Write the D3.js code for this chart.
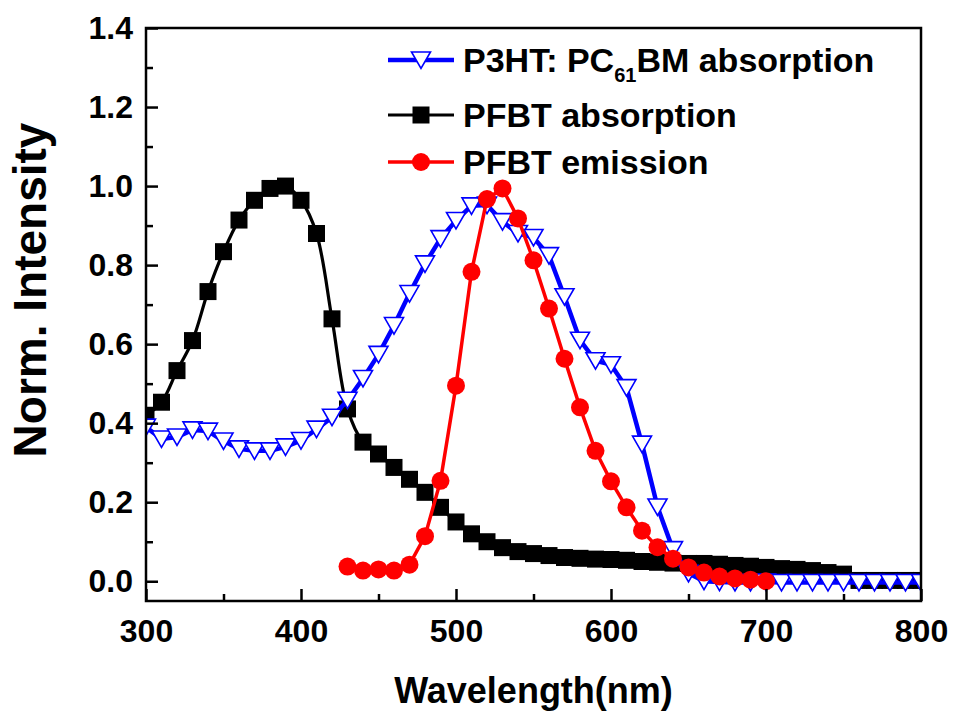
<!DOCTYPE html>
<html>
<head>
<meta charset="utf-8">
<script src="https://cdn.jsdelivr.net/npm/d3@7"></script>
<style>
  body { margin: 0; background: #fff; }
  text { font-family: "Liberation Sans", Arial, sans-serif; font-weight: bold; fill: #000; }
</style>
</head>
<body>
<svg></svg>
<script>
//data
var p3htNm = [300,310,320,330,340,350,360,370,380,390,400,410,420,430,440,450,460,470,480,490,
  500,510,520,530,540,550,560,570,580,590,600,610,620,630,640,650,660,670,680,690,
  700,710,720,730,740,750,760,770,780,790,800];
var p3htAbs = [0.39,0.36,0.365,0.383,0.38,0.355,0.335,0.33,0.33,0.34,0.356,0.385,0.415,0.458,0.513,0.574,0.647,0.728,0.803,0.867,
  0.913,0.95,0.952,0.91,0.88,0.87,0.824,0.72,0.61,0.558,0.548,0.49,0.347,0.188,0.08,0.02,0.0,-0.002,-0.003,-0.003,
  -0.002,-0.003,-0.003,-0.003,-0.003,-0.003,-0.003,-0.003,-0.003,-0.003,-0.003];

var pfbtNm = [300,310,320,330,340,350,360,370,380,390,400,410,420,430,440,450,460,470,480,490,
  500,510,520,530,540,550,560,570,580,590,600,610,620,630,640,650,660,670,680,690,
  700,710,720,730,740,750,760,770,780,790,800];
var pfbtAbs = [0.42,0.453,0.533,0.609,0.733,0.834,0.914,0.964,0.994,1.0,0.964,0.88,0.664,0.436,0.352,0.322,0.288,0.258,0.225,0.187,
  0.15,0.12,0.1,0.085,0.075,0.07,0.065,0.06,0.058,0.056,0.055,0.053,0.05,0.048,0.046,0.045,0.045,0.043,0.04,0.038,
  0.035,0.032,0.03,0.027,0.022,0.018,0.002,0.002,0.002,0.002,0.002];

var emNm = [430,440,450,460,470,480,490,500,510,520,530,540,550,560,570,580,590,600,610,620,
  630,640,650,660,670,680,690,700];
var pfbtEm = [0.037,0.027,0.03,0.027,0.042,0.114,0.254,0.495,0.783,0.967,0.994,0.918,0.812,0.69,0.563,0.44,0.33,0.253,0.187,0.128,
  0.086,0.057,0.035,0.022,0.012,0.007,0.004,0.0];

var xTicks = [300,400,500,600,700,800];
var yTicks = [0.0,0.2,0.4,0.6,0.8,1.0,1.2,1.4];

//layout conf.
var svgWidth = 953, svgHeight = 715,
    plot = {left: 146, right: 921, top: 28, bottom: 601};

var x = d3.scaleLinear().domain([300, 800]).range([plot.left, plot.right]);
var y = d3.scaleLinear().domain([-0.05, 1.4]).range([plot.bottom, plot.top]);

var svg = d3.select("svg").attr("width", svgWidth).attr("height", svgHeight);

svg.append("defs").append("clipPath").attr("id", "clip")
  .append("rect")
  .attr("x", plot.left).attr("y", plot.top)
  .attr("width", plot.right - plot.left).attr("height", plot.bottom - plot.top);

function zip(xs, ys) { return xs.map(function(v, i) { return [v, ys[i]]; }); }

var triPath = "M-9.5,-8L9.5,-8L0,8.5Z",
    sqPath = "M-8.5,-8.5H8.5V8.5H-8.5Z";

var series = [
  {name: "pfbtAbs", data: zip(pfbtNm, pfbtAbs), color: "#000", width: 3.2, curve: d3.curveCatmullRom, marker: "square"},
  {name: "p3ht", data: zip(p3htNm, p3htAbs), color: "#0000ff", width: 4.5, curve: d3.curveLinear, marker: "tri"},
  {name: "pfbtEm", data: zip(emNm, pfbtEm), color: "#ff0000", width: 3.5, curve: d3.curveLinear, marker: "circle"}
];

var plotArea = svg.append("g").attr("clip-path", "url(#clip)");

series.forEach(function(s) {
  var line = d3.line().x(function(d){ return x(d[0]); }).y(function(d){ return y(d[1]); }).curve(s.curve);
  var g = plotArea.append("g").classed(s.name, true);
  g.append("path").attr("d", line(s.data))
    .attr("fill", "none").attr("stroke", s.color).attr("stroke-width", s.width);
  drawMarkers(g, s.data, s);
});

function drawMarkers(g, data, s) {
  var m = g.selectAll(".pt").data(data).enter();
  if (s.marker == "circle") {
    m.append("circle").attr("cx", function(d){ return x(d[0]); }).attr("cy", function(d){ return y(d[1]); })
      .attr("r", 9).attr("fill", s.color);
  } else if (s.marker == "square") {
    m.append("path").attr("d", sqPath)
      .attr("transform", function(d){ return "translate(" + [x(d[0]), y(d[1])] + ")"; })
      .attr("fill", s.color);
  } else {
    m.append("path").attr("d", triPath)
      .attr("transform", function(d){ return "translate(" + [x(d[0]), y(d[1])] + ")"; })
      .attr("fill", "#fff").attr("stroke", s.color).attr("stroke-width", 1.6);
  }
}

//axes
var xAxis = d3.axisBottom(x).tickValues(xTicks).tickSizeInner(-12).tickSizeOuter(0).tickPadding(18)
  .tickFormat(d3.format("d"));
var xMinor = d3.axisBottom(x).tickValues([350,450,550,650,750]).tickSizeInner(-7).tickSizeOuter(0).tickFormat("");
var yAxis = d3.axisLeft(y).tickValues(yTicks).tickSizeInner(-12).tickSizeOuter(0).tickPadding(13)
  .tickFormat(d3.format(".1f"));
var yMinor = d3.axisLeft(y).tickValues([0.1,0.3,0.5,0.7,0.9,1.1,1.3]).tickSizeInner(-7).tickSizeOuter(0).tickFormat("");

[ [xAxis, "translate(0," + plot.bottom + ")"], [xMinor, "translate(0," + plot.bottom + ")"],
  [yAxis, "translate(" + plot.left + ",0)"], [yMinor, "translate(" + plot.left + ",0)"] ]
.forEach(function(a) {
  var g = svg.append("g").attr("transform", a[1]).call(a[0]);
  g.select(".domain").remove();
  g.selectAll("line").attr("stroke", "#000").attr("stroke-width", 2.5);
  g.selectAll("text").style("font-size", "32px").attr("fill", "#000");
});

svg.append("rect")
  .attr("x", plot.left).attr("y", plot.top)
  .attr("width", plot.right - plot.left).attr("height", plot.bottom - plot.top)
  .attr("fill", "none").attr("stroke", "#000").attr("stroke-width", 2.5);

//axis titles
svg.append("text").attr("x", (plot.left + plot.right) / 2).attr("y", 703)
  .attr("text-anchor", "middle").style("font-size", "36px").text("Wavelength(nm)");
svg.append("text").attr("transform", "translate(46," + 290 + ") rotate(-90)")
  .attr("text-anchor", "middle").style("font-size", "46px").text("Norm. Intensity");

//legend
var legend = svg.append("g").classed("legend", true);
var legendItems = [
  {s: series[1], y: 60},
  {s: series[0], y: 115},
  {s: series[2], y: 162}
];
legendItems.forEach(function(li) {
  var g = legend.append("g").attr("transform", "translate(421," + li.y + ")");
  g.append("line").attr("x1", -33).attr("x2", 33).attr("stroke", li.s.color).attr("stroke-width", li.s.width);
  if (li.s.marker == "circle") g.append("circle").attr("r", 9).attr("fill", li.s.color);
  else if (li.s.marker == "square") g.append("path").attr("d", sqPath).attr("fill", li.s.color);
  else g.append("path").attr("d", triPath).attr("fill", "#fff").attr("stroke", li.s.color).attr("stroke-width", 1.6);
});
var t1 = legend.append("text").attr("x", 463).attr("y", 72).style("font-size", "34px");
t1.append("tspan").text("P3HT: PC");
t1.append("tspan").attr("dy", 10).style("font-size", "20px").text("61");
t1.append("tspan").attr("dy", -10).text("BM absorption");
legend.append("text").attr("x", 463).attr("y", 127).style("font-size", "34px").text("PFBT absorption");
legend.append("text").attr("x", 463).attr("y", 174).style("font-size", "34px").text("PFBT emission");
</script>
</body>
</html>
